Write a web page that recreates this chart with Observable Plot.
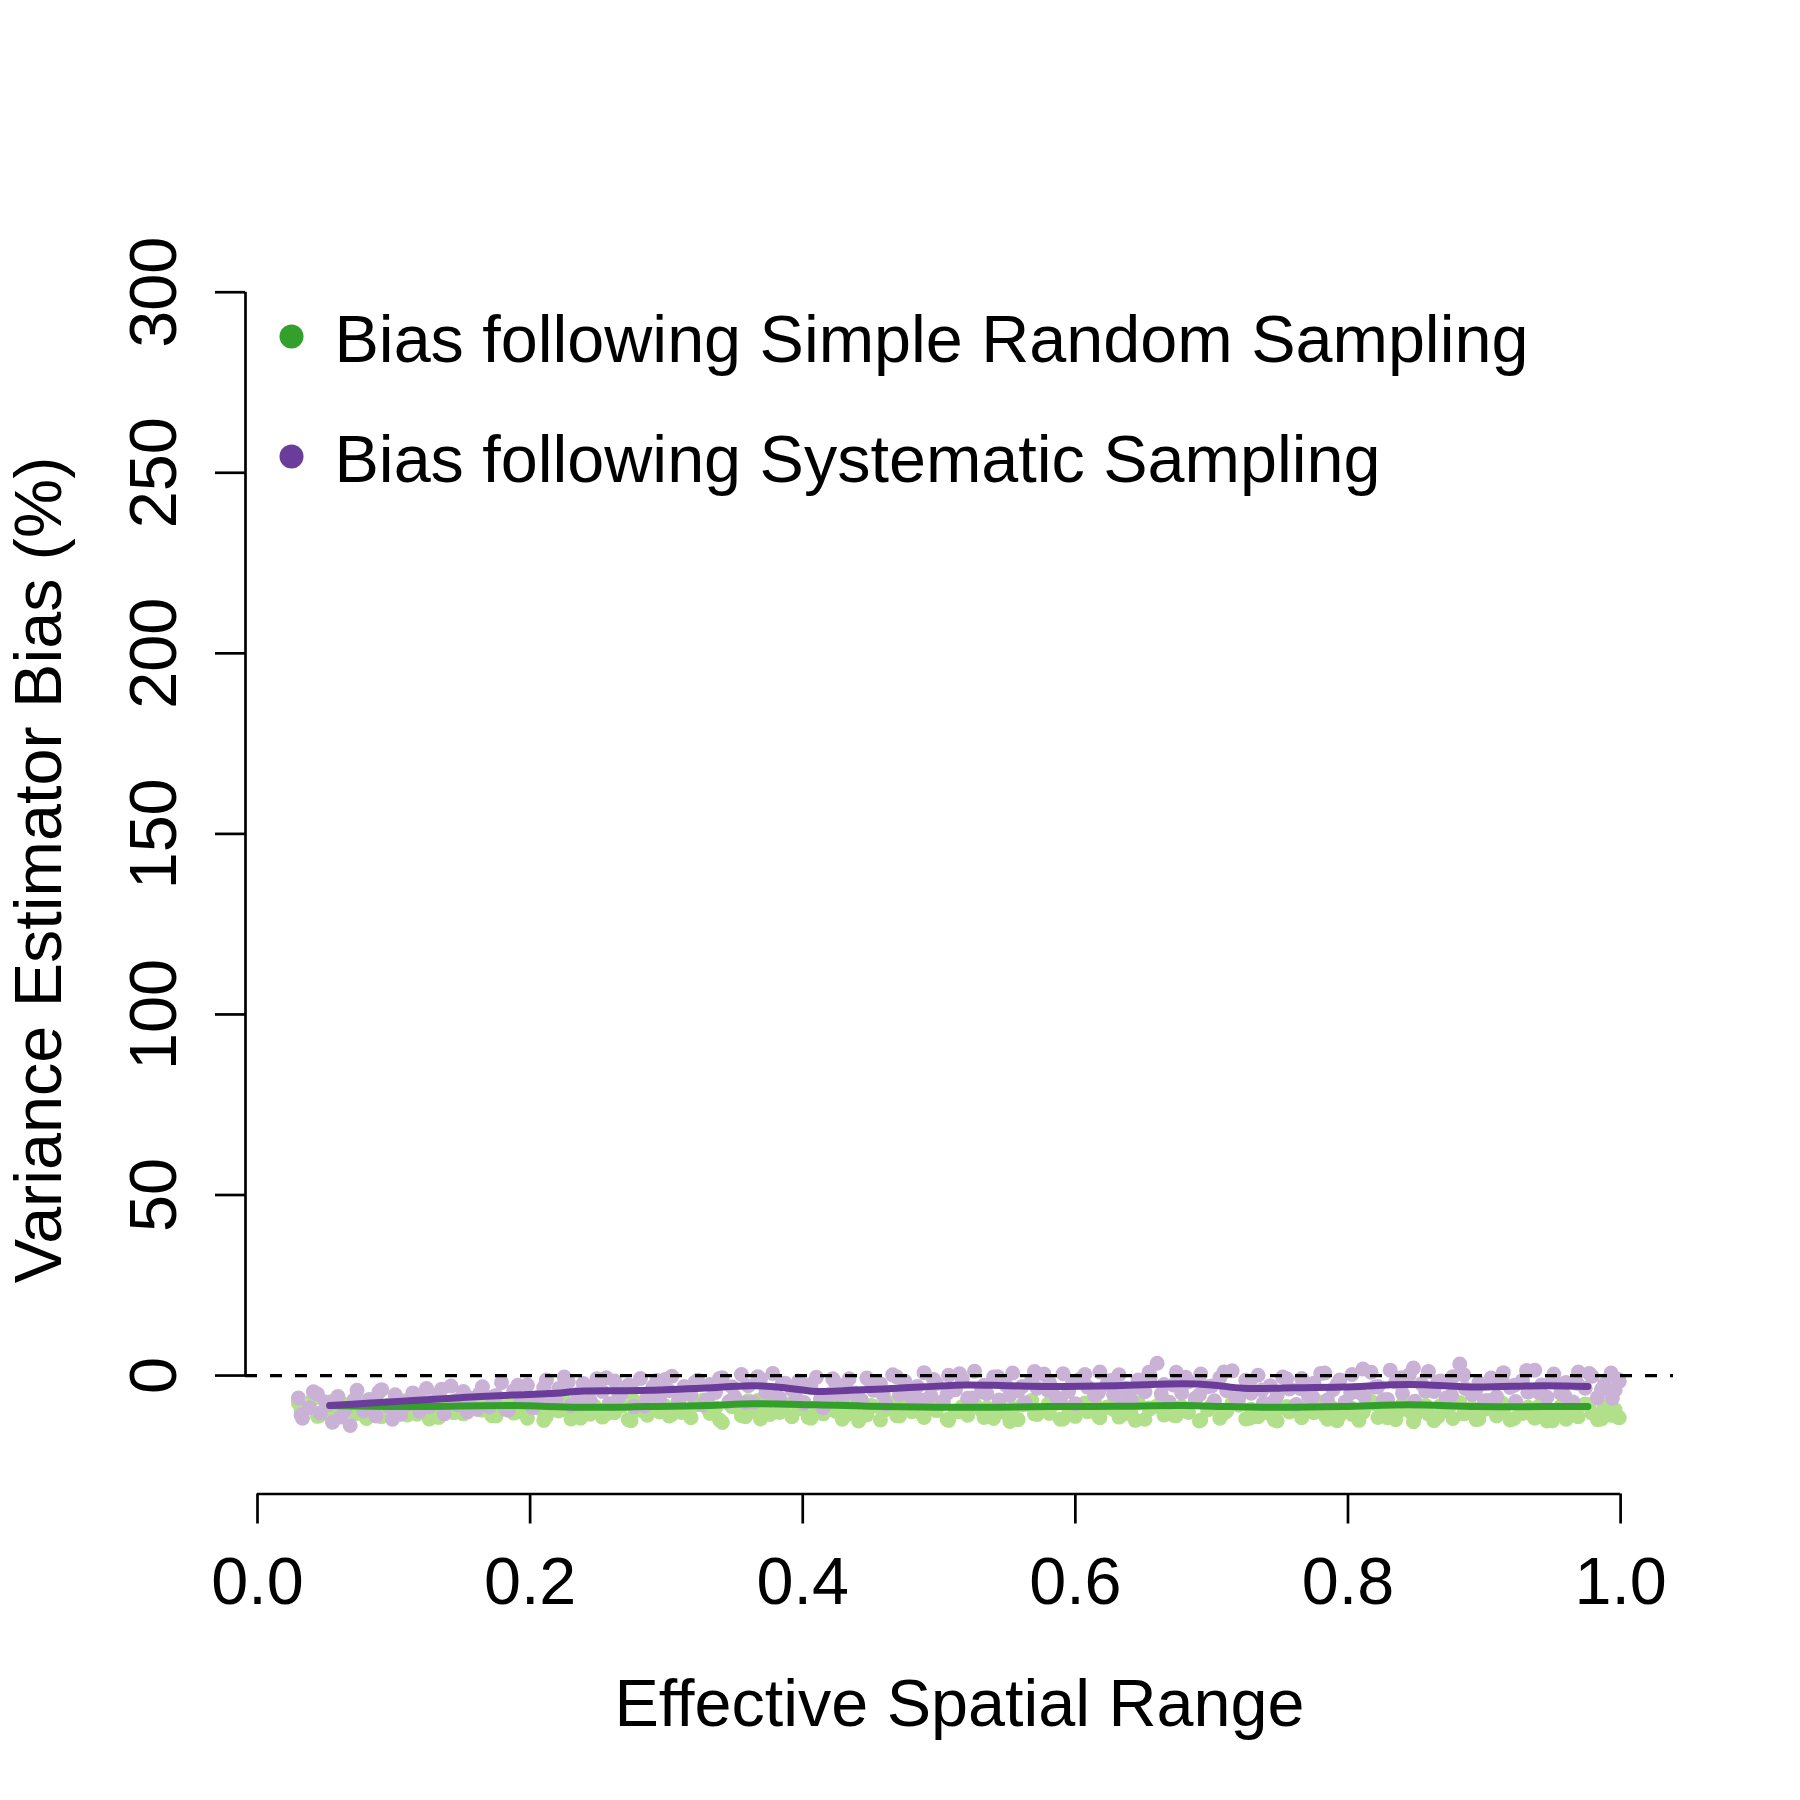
<!DOCTYPE html>
<html>
<head>
<meta charset="utf-8">
<script src="https://cdn.jsdelivr.net/npm/d3@7"></script>
<script src="https://cdn.jsdelivr.net/npm/@observablehq/plot@0.6"></script>
<style>
  html, body { margin: 0; padding: 0; background: #ffffff; }
</style>
</head>
<body>
<div id="chart"></div>
<script>
// ---------- data ----------
const xLabel = "Effective Spatial Range";
const yLabel = "Variance Estimator Bias (%)";
const xTicks = [0.0, 0.2, 0.4, 0.6, 0.8, 1.0];
const yTicks = [0, 50, 100, 150, 200, 250, 300];
const legendLabels = ["Bias following Simple Random Sampling", "Bias following Systematic Sampling"];
const legendColors = ["#33a02c", "#6a3d9a"];

const effRange = [
  0.030,0.033,0.038,0.041,0.046,0.050,0.055,0.059,0.064,0.068,
  0.073,0.078,0.082,0.087,0.091,0.096,0.101,0.105,0.110,0.114,
  0.119,0.124,0.128,0.133,0.137,0.142,0.147,0.151,0.156,0.161,
  0.165,0.170,0.175,0.179,0.184,0.188,0.193,0.198,0.202,0.207,
  0.212,0.216,0.221,0.225,0.230,0.235,0.239,0.244,0.249,0.253,
  0.258,0.262,0.267,0.272,0.276,0.281,0.286,0.290,0.295,0.299,
  0.304,0.309,0.313,0.318,0.323,0.327,0.332,0.336,0.341,0.346,
  0.350,0.355,0.360,0.364,0.369,0.373,0.378,0.383,0.387,0.392,
  0.397,0.401,0.406,0.410,0.415,0.420,0.424,0.429,0.434,0.438,
  0.443,0.447,0.452,0.457,0.461,0.466,0.471,0.475,0.480,0.484,
  0.489,0.494,0.498,0.503,0.507,0.512,0.517,0.521,0.526,0.531,
  0.535,0.540,0.544,0.549,0.554,0.558,0.563,0.568,0.572,0.577,
  0.581,0.586,0.591,0.595,0.600,0.604,0.609,0.614,0.618,0.623,
  0.628,0.632,0.637,0.641,0.646,0.651,0.655,0.660,0.665,0.669,
  0.674,0.678,0.683,0.688,0.692,0.697,0.702,0.706,0.711,0.715,
  0.720,0.725,0.729,0.734,0.738,0.743,0.748,0.752,0.757,0.762,
  0.766,0.771,0.775,0.780,0.785,0.789,0.794,0.798,0.803,0.808,
  0.812,0.817,0.822,0.826,0.831,0.835,0.840,0.845,0.849,0.854,
  0.859,0.863,0.868,0.872,0.877,0.882,0.886,0.891,0.896,0.900,
  0.905,0.909,0.914,0.919,0.923,0.928,0.932,0.937,0.942,0.946,
  0.951,0.956,0.960,0.965,0.969,0.974,0.979,0.983,0.988,0.993,
  0.996,0.999
];

const sysBias = [
  -6.2,-11.8,-8.9,-4.5,-10.4,-7.3,-12.9,-5.8,-9.6,-13.8,
  -4.1,-9.8,-6.6,-11.2,-3.9,-8.4,-5.3,-10.7,-7.9,-4.8,
  -9.9,-3.6,-7.4,-5.0,-10.6,-2.9,-8.1,-4.4,-6.2,-9.3,
  -3.1,-8.7,-5.5,-1.9,-9.6,-4.2,-7.0,-2.6,-8.9,-5.8,
  -1.2,-7.5,-3.6,-0.4,-8.3,-5.1,-2.2,-6.9,-0.9,-4.4,
  -7.8,-1.5,-4.9,-2.7,-8.6,-0.8,-5.7,-3.2,-6.6,-1.1,
  -0.2,-6.9,-3.0,-5.4,-1.3,-8.1,-2.5,-4.7,-0.6,-7.2,
  -5.9,0.3,-2.8,-7.4,-1.0,-4.6,0.6,-6.2,-2.1,-3.9,
  -1.5,-7.7,-3.3,-0.5,-8.9,-5.2,-2.0,-6.4,-0.9,-4.8,
  -6.8,-0.7,-4.1,-2.3,-7.9,0.2,-5.3,-1.6,-6.0,-3.0,
  0.8,-5.6,-2.2,-7.1,0.1,-3.9,-1.0,-6.3,1.2,-4.5,
  -5.0,-0.4,-6.8,-2.6,0.7,-4.2,-7.5,-1.4,-3.5,0.4,
  -1.9,-6.0,0.5,-4.4,-7.8,-0.8,-3.2,-5.5,1.0,-2.4,
  -5.2,0.2,-3.6,-6.9,-1.2,-4.5,-0.3,3.4,-2.5,-7.4,
  0.9,-4.8,-1.7,-6.3,0.4,-3.1,-7.0,-0.6,-4.2,1.3,
  -6.1,-1.3,-4.9,0.1,-7.6,-2.8,-5.5,-0.4,-3.7,-8.0,
  -0.8,-5.7,-2.1,0.6,-6.8,-3.9,-1.2,-7.3,0.3,-4.6,
  -5.8,0.9,-3.0,-6.7,1.5,-1.8,-4.9,0.2,-7.1,-2.3,
  1.1,-4.4,-1.5,-6.2,-0.3,3.2,-3.6,-5.3,-2.0,-7.0,
  -0.7,-5.9,0.8,-3.3,-7.2,-1.4,-4.6,1.5,-2.6,-6.0,
  0.4,-4.9,-1.9,-7.3,1.0,-3.5,-0.2,-6.1,-2.4,0.7,
  -4.0,-1.6
];

const srsBias = [
  -7.6,-10.2,-8.8,-6.4,-11.0,-9.3,-7.1,-10.8,-8.0,-9.7,
  -10.5,-7.3,-9.0,-6.8,-11.4,-8.2,-9.9,-7.7,-10.9,-8.6,
  -6.9,-10.1,-8.4,-11.6,-7.5,-9.4,-6.6,-10.6,-8.9,-7.8,
  -9.6,-7.0,-11.2,-8.3,-6.5,-10.4,-8.7,-11.8,-7.4,-9.1,
  -11.3,-8.0,-9.8,-6.7,-12.0,-8.9,-7.3,-10.7,-9.2,-11.5,
  -7.9,-10.3,-8.5,-12.2,-6.9,-9.6,-11.0,-7.6,-10.1,-8.4,
  -10.8,-7.2,-9.5,-11.7,-8.1,-6.8,-10.5,-9.0,-13.0,-7.7,
  -8.3,-11.1,-7.0,-9.7,-12.0,-8.6,-6.4,-10.2,-7.9,-11.4,
  -9.2,-7.4,-11.8,-8.7,-10.6,-6.9,-9.9,-12.1,-8.0,-10.3,
  -7.1,-10.9,-8.5,-12.3,-9.4,-7.6,-11.2,-8.8,-10.0,-6.8,
  -11.6,-8.2,-9.7,-7.3,-12.4,-10.1,-8.6,-11.0,-7.8,-9.5,
  -8.9,-11.9,-7.4,-10.4,-9.1,-12.2,-8.0,-6.9,-10.8,-9.6,
  -10.5,-7.7,-12.0,-9.0,-11.3,-8.3,-10.0,-7.2,-11.7,-8.8,
  -9.4,-11.5,-8.1,-10.7,-7.5,-12.1,-9.2,-8.4,-10.9,-7.9,
  -11.1,-8.6,-10.2,-7.0,-12.3,-9.5,-8.0,-11.8,-9.9,-7.6,
  -8.2,-12.0,-9.3,-11.4,-7.8,-10.6,-12.6,-8.9,-10.1,-9.6,
  -11.7,-8.4,-10.3,-7.4,-12.1,-9.0,-11.0,-8.1,-10.8,-12.4,
  -9.1,-7.2,-11.6,-8.7,-10.0,-12.2,-7.9,-9.8,-11.3,-8.5,
  -10.6,-12.5,-8.3,-9.7,-11.9,-7.5,-10.2,-8.9,-12.0,-9.4,
  -8.0,-11.2,-9.6,-12.3,-7.7,-10.5,-8.8,-11.8,-9.1,-12.6,
  -10.9,-8.6,-12.1,-9.3,-11.4,-7.9,-10.4,-12.2,-8.7,-11.0,
  -9.5,-11.7
];

// second batch of simulation runs
const effRange2 = [
  0.032,0.044,0.052,0.061,0.071,0.080,0.089,0.099,0.108,0.117,
  0.126,0.135,0.144,0.154,0.163,0.172,0.182,0.191,0.200,0.210,
  0.219,0.228,0.237,0.247,0.256,0.265,0.274,0.284,0.293,0.302,
  0.311,0.321,0.330,0.339,0.348,0.358,0.367,0.376,0.385,0.395,
  0.404,0.413,0.422,0.432,0.441,0.450,0.459,0.469,0.478,0.487,
  0.496,0.506,0.515,0.524,0.533,0.543,0.552,0.561,0.570,0.580,
  0.589,0.598,0.607,0.617,0.626,0.635,0.644,0.654,0.663,0.672,
  0.681,0.691,0.700,0.709,0.718,0.728,0.737,0.746,0.755,0.765,
  0.774,0.783,0.792,0.802,0.811,0.820,0.829,0.839,0.848,0.857,
  0.866,0.876,0.885,0.894,0.903,0.913,0.922,0.931,0.940,0.950,
  0.959,0.968,0.977,0.986,0.994,0.998
];
const sysBias2 = [
  -10.9,-5.1,-8.0,-11.5,-6.7,-9.2,-4.6,-12.1,-7.4,-5.6,
  -8.6,-3.8,-7.2,-10.1,-4.9,-6.0,-9.3,-2.7,-7.9,-3.3,
  -6.5,-1.8,-7.9,-3.4,-0.6,-5.9,-2.8,-8.4,-1.4,-4.2,
  -5.4,-1.9,-6.7,-0.8,-3.1,-7.5,-0.3,-4.8,-2.2,-6.1,
  -2.6,-6.5,-0.9,-3.9,-7.0,-1.7,-5.3,-0.4,-3.5,-6.8,
  -1.1,-4.9,0.5,-6.2,-2.7,-0.3,-5.5,-3.0,1.1,-4.1,
  -6.6,-2.0,0.3,-4.7,-1.4,-7.2,-3.3,0.9,-5.1,-2.6,
  -0.5,-5.3,-2.9,1.0,-6.4,-1.8,-4.0,-7.0,-0.9,-3.6,
  -5.9,0.7,-2.4,-4.8,1.8,-3.2,-6.6,-0.6,2.1,-4.3,
  -1.7,-5.5,0.2,-3.8,-6.9,-0.8,-2.7,1.4,-4.7,-1.2,
  -5.6,-2.1,0.6,-3.9,-6.3,-1.0
];
const srsBias2 = [
  -9.1,-11.3,-7.8,-10.0,-6.9,-11.9,-8.5,-9.8,-7.0,-10.7,
  -12.0,-8.1,-10.3,-7.3,-9.5,-11.1,-6.8,-10.0,-8.8,-12.4,
  -7.5,-9.9,-11.8,-8.4,-10.6,-7.1,-12.5,-9.3,-8.0,-11.2,
  -10.2,-7.8,-9.1,-12.3,-8.6,-11.4,-6.9,-10.8,-9.6,-7.4,
  -11.5,-9.0,-7.7,-10.9,-12.6,-8.3,-9.7,-11.1,-7.2,-10.4,
  -8.7,-12.2,-10.0,-7.5,-11.6,-9.3,-12.7,-8.1,-10.6,-7.9,
  -12.1,-9.5,-7.6,-11.3,-8.4,-10.7,-12.4,-9.0,-7.3,-11.0,
  -9.7,-12.6,-8.2,-10.4,-7.7,-11.8,-9.2,-12.3,-8.6,-10.1,
  -7.4,-11.0,-12.5,-8.9,-10.2,-7.8,-11.7,-9.4,-12.8,-8.3,
  -11.4,-8.0,-10.6,-12.2,-9.1,-7.6,-11.9,-10.3,-8.5,-12.5,
  -9.6,-11.2,-8.1,-12.0,-10.0,-11.5
];

// smoothed trend lines
const sysLineX = [0.053,0.080,0.114,0.150,0.187,0.214,0.239,0.262,0.288,0.337,0.363,0.385,0.410,0.435,0.459,0.490,0.520,0.550,0.581,0.630,0.679,0.700,0.723,0.760,0.796,0.845,0.894,0.943,0.976];
const sysLineY = [-8.3,-7.7,-6.9,-6.1,-5.4,-5.0,-4.3,-4.2,-4.1,-3.3,-2.8,-3.3,-4.4,-4.1,-3.7,-3.1,-2.6,-2.8,-3.0,-2.8,-2.3,-2.6,-3.5,-3.4,-3.2,-2.5,-3.2,-2.8,-3.0];
const srsLineX = [0.053,0.114,0.187,0.236,0.285,0.330,0.363,0.410,0.459,0.520,0.581,0.630,0.679,0.713,0.747,0.796,0.845,0.894,0.943,0.976];
const srsLineY = [-8.3,-8.6,-8.3,-8.8,-8.6,-8.3,-7.8,-8.1,-8.6,-8.8,-8.6,-8.5,-8.3,-8.6,-8.8,-8.6,-8.1,-8.6,-8.6,-8.6];

// ---------- build tables ----------
const srsPoints = effRange.map((x, i) => ({x, y: srsBias[i]}))
  .concat(effRange2.map((x, i) => ({x, y: srsBias2[i]})));
const sysPoints = effRange.map((x, i) => ({x, y: sysBias[i]}))
  .concat(effRange2.map((x, i) => ({x, y: sysBias2[i]})));
const srsLine = srsLineX.map((x, i) => ({x, y: srsLineY[i]}));
const sysLine = sysLineX.map((x, i) => ({x, y: sysLineY[i]}));

const xDomain = [-0.0088, 1.0388];
const yDomain = [-32.8, 312.8];
const FONT = "'Liberation Sans', Arial, Helvetica, sans-serif";
const FS = 66.5;
const AXW = 2.7;

const legendMarks = legendLabels.flatMap((lab, i) => [
  Plot.dot([lab], {frameAnchor: "top-left", dx: 46, dy: 90.5 + i * 120, r: 12, fill: legendColors[i], stroke: "none"}),
  Plot.text([lab], {frameAnchor: "top-left", dx: 89, dy: 115.5 + i * 120.5, text: d => d,
    textAnchor: "start", lineAnchor: "bottom", fontSize: FS, fontFamily: FONT, fill: "black"})
]);

const chart = Plot.plot({
  width: 1800,
  height: 1800,
  marginLeft: 245,
  marginRight: 127,
  marginTop: 245.5,
  marginBottom: 306.5,
  x: {domain: xDomain, axis: null},
  y: {domain: yDomain, axis: null},
  style: {fontFamily: FONT, background: "white"},
  marks: [
    // point clouds
    Plot.dot(srsPoints, {x: "x", y: "y", r: 7.5, fill: "#b2df8a", stroke: "none"}),
    Plot.dot(sysPoints, {x: "x", y: "y", r: 7.5, fill: "#cab2d6", stroke: "none"}),
    // zero reference line
    Plot.ruleY([0], {stroke: "black", strokeWidth: 3.3, strokeDasharray: "12,13"}),
    // trend lines
    Plot.line(srsLine, {x: "x", y: "y", stroke: "#33a02c", strokeWidth: 7, curve: "catmull-rom", strokeLinecap: "round", strokeLinejoin: "round"}),
    Plot.line(sysLine, {x: "x", y: "y", stroke: "#6a3d9a", strokeWidth: 7, curve: "catmull-rom", strokeLinecap: "round", strokeLinejoin: "round"}),
    // y axis
    Plot.ruleX([xDomain[0]], {y1: yTicks[0], y2: yTicks[yTicks.length - 1], stroke: "black", strokeWidth: AXW}),
    Plot.ruleY(yTicks, {x1: xDomain[0], x2: xDomain[0], insetLeft: -30, stroke: "black", strokeWidth: AXW}),
    Plot.text(yTicks, {y: d => d, frameAnchor: "left", dx: -70, rotate: -90, text: d => String(d),
      textAnchor: "middle", lineAnchor: "bottom", fontSize: FS, fontFamily: FONT, fill: "black"}),
    // x axis
    Plot.ruleY([yDomain[0]], {x1: xTicks[0], x2: xTicks[xTicks.length - 1], stroke: "black", strokeWidth: AXW}),
    Plot.ruleX(xTicks, {y1: yDomain[0], y2: yDomain[0], insetBottom: -30, stroke: "black", strokeWidth: AXW}),
    Plot.text(xTicks, {x: d => d, frameAnchor: "bottom", dy: 110, text: d => d.toFixed(1),
      textAnchor: "middle", lineAnchor: "bottom", fontSize: FS, fontFamily: FONT, fill: "black"}),
    // axis titles
    Plot.text([xLabel], {frameAnchor: "bottom", dy: 232, text: d => d, textAnchor: "middle",
      lineAnchor: "bottom", fontSize: FS, fontFamily: FONT, fill: "black"}),
    Plot.text([yLabel], {frameAnchor: "left", dx: -185, rotate: -90, text: d => d, textAnchor: "middle",
      lineAnchor: "bottom", fontSize: FS, fontFamily: FONT, fill: "black"}),
    // legend
    ...legendMarks
  ]
});

document.getElementById("chart").appendChild(chart);
</script>
</body>
</html>
